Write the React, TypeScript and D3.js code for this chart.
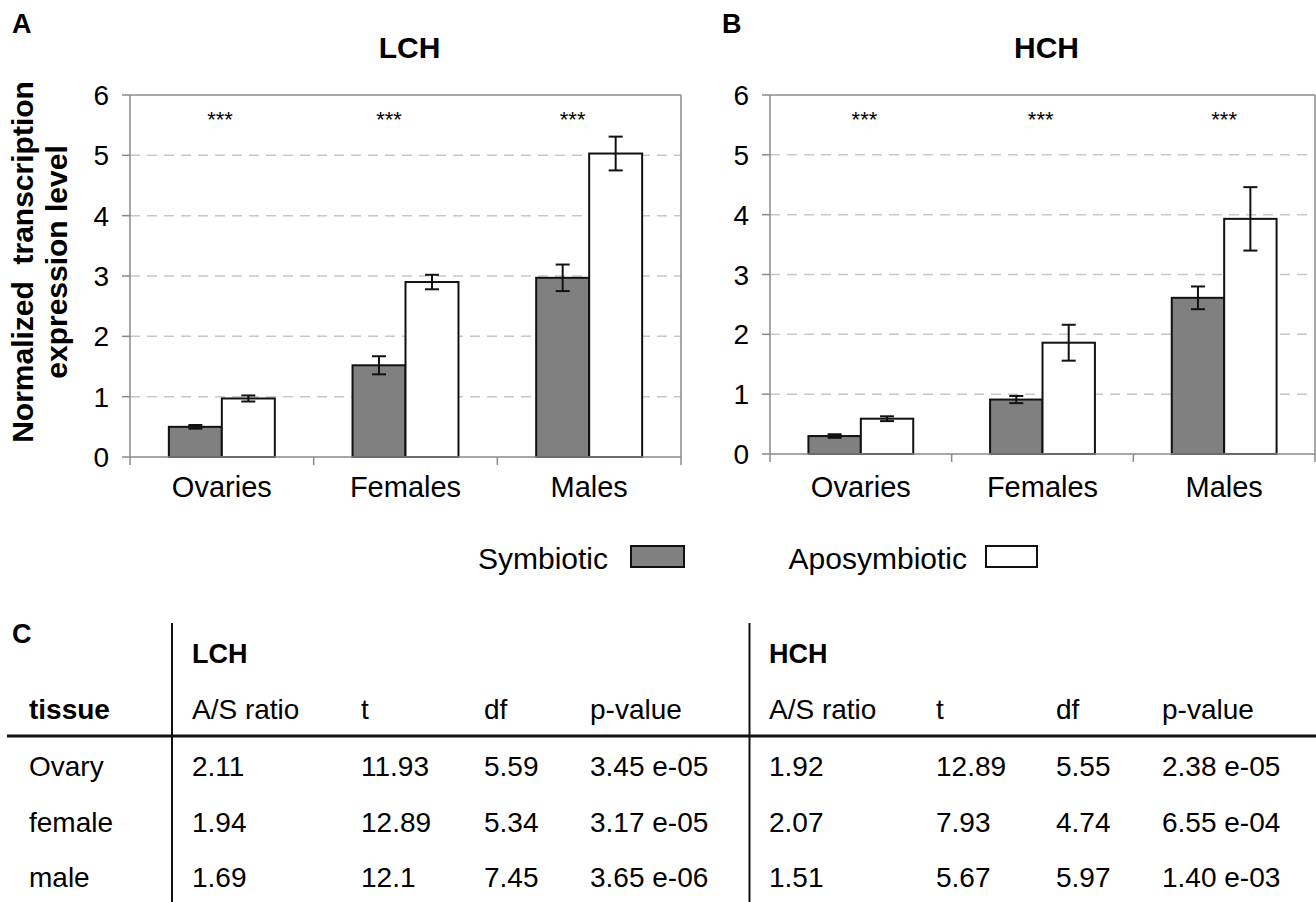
import * as d3 from 'd3'

const categories = ['Ovaries', 'Females', 'Males']
const groups = ['Symbiotic', 'Aposymbiotic']

// panel A (LCH)
const lchSym = [0.5, 1.52, 2.97]
const lchSymErr = [0.03, 0.15, 0.22]
const lchApo = [0.97, 2.9, 5.03]
const lchApoErr = [0.05, 0.12, 0.28]
const lchStarShift = [-0.01, -0.09, -0.09]

// panel B (HCH)
const hchSym = [0.3, 0.91, 2.61]
const hchSymErr = [0.03, 0.06, 0.19]
const hchApo = [0.59, 1.86, 3.93]
const hchApoErr = [0.04, 0.3, 0.53]
const hchStarShift = [0.02, -0.01, 0]

const yTicks = [0, 1, 2, 3, 4, 5, 6]

// panel C table
const tableGroups = ['LCH', 'HCH']
const tableColumns = ['A/S ratio', 't', 'df', 'p-value']
const tissues = ['Ovary', 'female', 'male']
const lchRows = [
  ['2.11', '11.93', '5.59', '3.45 e-05'],
  ['1.94', '12.89', '5.34', '3.17 e-05'],
  ['1.69', '12.1', '7.45', '3.65 e-06'],
]
const hchRows = [
  ['1.92', '12.89', '5.55', '2.38 e-05'],
  ['2.07', '7.93', '4.74', '6.55 e-04'],
  ['1.51', '5.67', '5.97', '1.40 e-03'],
]

const FONT = '"Liberation Sans", Arial, Helvetica, sans-serif'
const SYM_FILL = '#808080'
const AXIS = '#8a8a8a'

interface PanelProps {
  letter: string
  letterX: number
  title: string
  left: number
  right: number
  top: number
  zero: number
  sym: number[]
  symErr: number[]
  apo: number[]
  apoErr: number[]
  starShift: number[]
}

function Panel(p: PanelProps) {
  const x0 = d3.scaleBand<string>()
    .domain(categories)
    .range([p.left, p.right])
    .paddingInner(0.423)
    .paddingOuter(0.2115)
  const x1 = d3.scaleBand<string>().domain(groups).range([0, x0.bandwidth()])
  const y = d3.scaleLinear().domain([0, 6]).range([p.zero, p.top])
  const step = x0.step()
  const bounds = d3.range(categories.length + 1).map(i => p.left + i * step)

  const series = [
    { key: groups[0], vals: p.sym, errs: p.symErr, fill: SYM_FILL },
    { key: groups[1], vals: p.apo, errs: p.apoErr, fill: '#ffffff' },
  ]

  return (
    <g fontFamily={FONT}>
      <text x={p.letterX} y={33} fontSize={27} fontWeight="bold">{p.letter}</text>
      <text x={(p.left + p.right) / 2 + 4} y={58} fontSize={30} fontWeight="bold" textAnchor="middle">{p.title}</text>

      {/* gridlines */}
      {yTicks.filter(t => t > 0 && t < 6).map(t => (
        <line key={t} x1={p.left} x2={p.right} y1={y(t)} y2={y(t)}
          stroke="#c8c8c8" strokeWidth={1.5} strokeDasharray="10,7" />
      ))}

      {/* plot frame */}
      <line x1={p.left} x2={p.right} y1={y(6)} y2={y(6)} stroke={AXIS} strokeWidth={1.5} />
      <line x1={p.right} x2={p.right} y1={y(6)} y2={p.zero} stroke={AXIS} strokeWidth={1.5} />

      {/* bars */}
      {series.map(s => categories.map((c, i) => (
        <rect key={s.key + c}
          x={(x0(c) ?? 0) + (x1(s.key) ?? 0)}
          y={y(s.vals[i])}
          width={x1.bandwidth()}
          height={p.zero - y(s.vals[i])}
          fill={s.fill} stroke="#111" strokeWidth={2} />
      )))}

      {/* error bars */}
      {series.map(s => categories.map((c, i) => {
        const cx = (x0(c) ?? 0) + (x1(s.key) ?? 0) + x1.bandwidth() / 2
        const hi = y(s.vals[i] + s.errs[i])
        const lo = y(s.vals[i] - s.errs[i])
        return (
          <g key={'e' + s.key + c} stroke="#111" strokeWidth={2}>
            <line x1={cx} x2={cx} y1={hi} y2={lo} />
            <line x1={cx - 7} x2={cx + 7} y1={hi} y2={hi} />
            <line x1={cx - 7} x2={cx + 7} y1={lo} y2={lo} />
          </g>
        )
      }))}

      {/* significance stars */}
      {categories.map((c, i) => (
        <text key={'s' + c} x={(x0(c) ?? 0) + x0.bandwidth() / 2 + p.starShift[i] * step}
          y={127} fontSize={22} textAnchor="middle">***</text>
      ))}

      {/* y axis */}
      <line x1={p.left} x2={p.left} y1={y(6)} y2={p.zero} stroke={AXIS} strokeWidth={1.5} />
      {yTicks.map(t => (
        <g key={'y' + t}>
          <line x1={p.left - 8} x2={p.left} y1={y(t)} y2={y(t)} stroke={AXIS} strokeWidth={1.5} />
          <text x={p.left - 21} y={y(t) + 10} fontSize={28} textAnchor="end">{t}</text>
        </g>
      ))}

      {/* x axis */}
      <line x1={p.left} x2={p.right} y1={p.zero} y2={p.zero} stroke={AXIS} strokeWidth={1.5} />
      {bounds.map(b => (
        <line key={'b' + b} x1={b} x2={b} y1={p.zero} y2={p.zero + 8} stroke={AXIS} strokeWidth={1.5} />
      ))}
      {categories.map(c => (
        <text key={'c' + c} x={(x0(c) ?? 0) + x0.bandwidth() / 2} y={497} fontSize={29} textAnchor="middle">{c}</text>
      ))}
    </g>
  )
}

function Table() {
  const groupLeft = [192, 769]
  const colOffsets = [[0, 169, 292, 398], [0, 167, 287, 393]]
  const rowY = d3.scaleLinear().domain([0, 1]).range([776, 831.5])
  const rowsBy = [lchRows, hchRows]
  return (
    <g fontFamily={FONT} fontSize={28}>
      <text x={12} y={643} fontSize={27} fontWeight="bold">C</text>
      <line x1={172} x2={172} y1={623} y2={902} stroke="#111" strokeWidth={2} />
      <line x1={749.5} x2={749.5} y1={623} y2={902} stroke="#111" strokeWidth={2} />
      <line x1={7} x2={1316} y1={736} y2={736} stroke="#111" strokeWidth={3} />
      <text x={29} y={719} fontWeight="bold">tissue</text>
      {tableGroups.map((g, gi) => (
        <g key={g}>
          <text x={groupLeft[gi]} y={663} fontWeight="bold" fontSize={27}>{g}</text>
          {tableColumns.map((col, ci) => (
            <text key={col} x={groupLeft[gi] + colOffsets[gi][ci]} y={719}>{col}</text>
          ))}
          {rowsBy[gi].map((row, ri) => row.map((v, ci) => (
            <text key={ri + '-' + ci} x={groupLeft[gi] + colOffsets[gi][ci]} y={rowY(ri)}>{v}</text>
          )))}
        </g>
      ))}
      {tissues.map((t, ri) => (
        <text key={t} x={29} y={rowY(ri)}>{t}</text>
      ))}
    </g>
  )
}

export default function App() {
  return (
    <svg width={1316} height={902} viewBox="0 0 1316 902"
      style={{ position: 'absolute', left: 0, top: 0, background: '#fff' }}>
      <rect width={1316} height={902} fill="#fff" />
      <Panel letter="A" letterX={12} title="LCH" left={130} right={681} top={95} zero={457}
        sym={lchSym} symErr={lchSymErr} apo={lchApo} apoErr={lchApoErr} starShift={lchStarShift} />
      <Panel letter="B" letterX={722} title="HCH" left={770} right={1315} top={95} zero={454}
        sym={hchSym} symErr={hchSymErr} apo={hchApo} apoErr={hchApoErr} starShift={hchStarShift} />

      {/* y axis title */}
      <g fontFamily={FONT} fontSize={30} fontWeight="bold" textAnchor="middle">
        <text transform="translate(33,262) rotate(-90)" style={{ whiteSpace: 'pre' }}>Normalized  transcription</text>
        <text transform="translate(67,262) rotate(-90)">expression level</text>
      </g>

      {/* legend */}
      <g fontFamily={FONT} fontSize={30}>
        <text x={608} y={569} textAnchor="end">Symbiotic</text>
        <rect x={631} y={546} width={53} height={21} fill={SYM_FILL} stroke="#111" strokeWidth={2} />
        <text x={967} y={569} textAnchor="end">Aposymbiotic</text>
        <rect x={986} y={546} width={51} height={21} fill="#fff" stroke="#111" strokeWidth={2} />
      </g>

      <Table />
    </svg>
  )
}
